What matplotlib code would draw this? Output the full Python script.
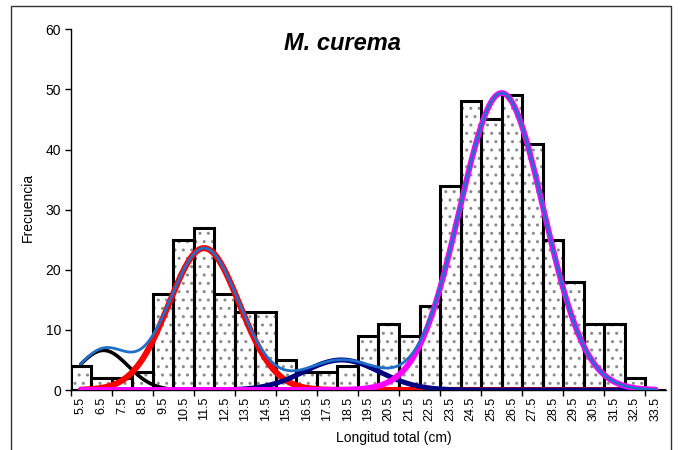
import numpy as np
import matplotlib
matplotlib.use("Agg")
import matplotlib.pyplot as plt
from matplotlib.patches import Rectangle

plt.rcParams['font.family'] = ['Liberation Sans', 'DejaVu Sans']
plt.rcParams['hatch.linewidth'] = 1.0

# length classes (cm) and frequencies
clases = [5.5, 6.5, 7.5, 8.5, 9.5, 10.5, 11.5, 12.5, 13.5, 14.5, 15.5, 16.5, 17.5, 18.5, 19.5,
          20.5, 21.5, 22.5, 23.5, 24.5, 25.5, 26.5, 27.5, 28.5, 29.5, 30.5, 31.5, 32.5, 33.5]
frecuencia = [4, 2, 2, 3, 16, 25, 27, 16, 13, 13, 5, 3, 3, 4, 9,
              11, 9, 14, 34, 48, 45, 49, 41, 25, 18, 11, 11, 2, 0]

# normal components (mean, sd, peak height)
medias = [6.6, 11.5, 18.2, 26.0]
desvios = [1.2, 1.72, 1.85, 2.05]
alturas = [6.6, 23.6, 5.0, 49.4]
colores = ['black', 'red', '#000080', '#ff00ff']
grosores = [2.6, 4.4, 3.6, 4.2]

fig = plt.figure(figsize=(6.8, 4.5), dpi=100)
ax = fig.add_axes([0.104, 0.1333, 0.875, 0.8016])

idx = np.arange(len(clases))
# dotted fill in grey, then the black outlines on top
ax.bar(idx, frecuencia, width=1.0, color='white', edgecolor='#8a8a8a',
       linewidth=0, hatch='..', zorder=2)
ax.bar(idx, frecuencia, width=1.0, fill=False, edgecolor='black',
       linewidth=2.2, zorder=2.5)

# curves on the continuous length scale, mapped onto category positions
x = np.linspace(clases[0], clases[-1], 600)
pos = x - clases[0]
total = np.zeros_like(x)
for k in range(len(medias)):
    y = alturas[k] * np.exp(-(x - medias[k]) ** 2 / (2 * desvios[k] ** 2))
    total += y
    ax.plot(pos, y, color=colores[k], lw=grosores[k], zorder=3 + k,
            solid_capstyle='round')
ax.plot(pos, total, color='#1f6fc8', lw=2.0, zorder=10)

ax.set_xlim(-0.5, len(clases) - 0.5)
ax.set_ylim(0, 60)
ax.set_yticks(range(0, 61, 10))
ax.set_xticks(idx)
ax.set_xticklabels([f"{c:.1f}" for c in clases], rotation=90, fontsize=9)
ax.tick_params(axis='x', length=0, pad=5)
ax.set_xticks(np.arange(-0.5, len(clases), 2), minor=True)
ax.tick_params(axis='x', which='minor', length=4, width=1, direction='out')
ax.tick_params(axis='y', length=4, width=1, direction='out', labelsize=10, pad=3)
for s in ['top', 'right']:
    ax.spines[s].set_visible(False)
for s in ['left', 'bottom']:
    ax.spines[s].set_linewidth(1.0)

fig.text(0.503, 0.903, 'M. curema', ha='center', va='center', fontsize=17,
         fontweight='bold', fontstyle='italic')
fig.text(0.041, 0.54, 'Frecuencia', rotation=90, ha='center', va='center', fontsize=10)
fig.text(0.579, 0.027, 'Longitud total (cm)', ha='center', va='center', fontsize=10)

# outer frame of the chart area
fig.patches.append(Rectangle((0.0155, -0.05), 0.971, 1.037, transform=fig.transFigure,
                             fill=False, edgecolor='#333333', linewidth=1.0))

fig.savefig('out.png', dpi=100)
